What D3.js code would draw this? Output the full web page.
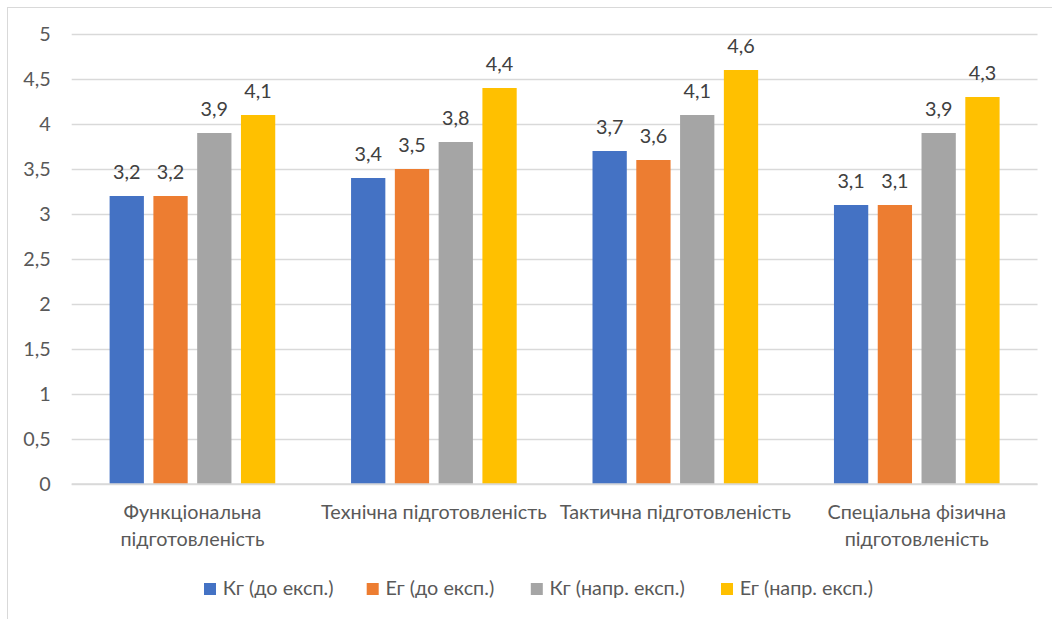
<!DOCTYPE html>
<html>
<head>
<meta charset="utf-8">
<script src="https://cdn.jsdelivr.net/npm/d3@7"></script>
<style>
  html, body { margin: 0; padding: 0; background: #fff; }
  svg { display: block; font-family: Lato, "Liberation Sans", sans-serif; }
</style>
</head>
<body>
<svg id="chart" width="1052" height="619"></svg>
<script>
const categories = [
  ["Функціональна", "підготовленість"],
  ["Технічна підготовленість"],
  ["Тактична підготовленість"],
  ["Спеціальна фізична", "підготовленість"]
];
const seriesNames = ["Кг (до експ.)", "Ег (до експ.)", "Кг (напр. експ.)", "Ег (напр. експ.)"];
const seriesColors = ["#4472c4", "#ed7d31", "#a5a5a5", "#ffc000"];
const kgBefore = [3.2, 3.4, 3.7, 3.1];
const egBefore = [3.2, 3.5, 3.6, 3.1];
const kgAfter  = [3.9, 3.8, 4.1, 3.9];
const egAfter  = [4.1, 4.4, 4.6, 4.3];
const yTicks = [0, 0.5, 1, 1.5, 2, 2.5, 3, 3.5, 4, 4.5, 5];

const series = [kgBefore, egBefore, kgAfter, egAfter];
const fmt = v => String(v).replace(".", ",");

const svg = d3.select("#chart");
const plot = { left: 71.7, right: 1037.5, top: 34, bottom: 484 };
const textColor = "#595959";
const fs = 19.8;

// outer border (right and bottom edges fall outside the picture)
svg.append("rect").attr("x", 7.5).attr("y", 7.5).attr("width", 1060).attr("height", 620)
  .attr("fill", "none").attr("stroke", "#d9d9d9").attr("stroke-width", 1);

const y = d3.scaleLinear().domain([0, 5]).range([plot.bottom, plot.top]);
const x0 = d3.scaleBand().domain(d3.range(categories.length)).range([plot.left, plot.right]).padding(0);
const outerGap = x0.bandwidth() * 0.157;
const x1 = d3.scaleBand().domain(d3.range(series.length))
  .range([outerGap, x0.bandwidth() - outerGap]).paddingInner(0.217).paddingOuter(0);

// grid + y tick labels
const yAxis = d3.axisLeft(y).tickValues(yTicks).tickSize(-(plot.right - plot.left)).tickFormat(fmt).tickPadding(21);
const gy = svg.append("g").attr("transform", `translate(${plot.left},0)`).call(yAxis);
gy.select(".domain").remove();
gy.selectAll(".tick line").attr("stroke", "#d9d9d9").attr("stroke-width", 1.3);
gy.selectAll(".tick text").attr("fill", textColor).attr("font-size", fs).attr("font-family", "Lato, sans-serif");

// bars + data labels
const groups = svg.append("g").selectAll("g").data(categories).join("g")
  .attr("transform", (d, i) => `translate(${x0(i)},0)`);

groups.each(function(cat, ci) {
  const g = d3.select(this);
  series.forEach((s, si) => {
    g.append("rect")
      .attr("x", x1(si)).attr("width", x1.bandwidth())
      .attr("y", y(s[ci])).attr("height", y(0) - y(s[ci]))
      .attr("fill", seriesColors[si]);
    g.append("text")
      .attr("x", x1(si) + x1.bandwidth() / 2)
      .attr("y", y(s[ci]) - 17)
      .attr("text-anchor", "middle")
      .attr("fill", "#404040")
      .attr("font-size", fs)
      .text(fmt(s[ci]));
  });
});

// baseline
svg.append("line").attr("x1", plot.left).attr("x2", plot.right)
  .attr("y1", y(0)).attr("y2", y(0)).attr("stroke", "#d9d9d9").attr("stroke-width", 1.3);

// category labels
categories.forEach((lines, i) => {
  const cx = x0(i) + x0.bandwidth() / 2;
  lines.forEach((ln, li) => {
    svg.append("text").attr("x", cx).attr("y", 519 + li * 27)
      .attr("text-anchor", "middle").attr("fill", textColor).attr("font-size", fs).text(ln);
  });
});

// legend
const legendX = [204, 366.7, 530.8, 721];
const lg = svg.append("g");
seriesNames.forEach((name, i) => {
  lg.append("rect").attr("x", legendX[i]).attr("y", 583).attr("width", 12).attr("height", 12)
    .attr("fill", seriesColors[i]);
  lg.append("text").attr("x", legendX[i] + 18.7).attr("y", 595)
    .attr("fill", textColor).attr("font-size", fs).text(name);
});
</script>
</body>
</html>
